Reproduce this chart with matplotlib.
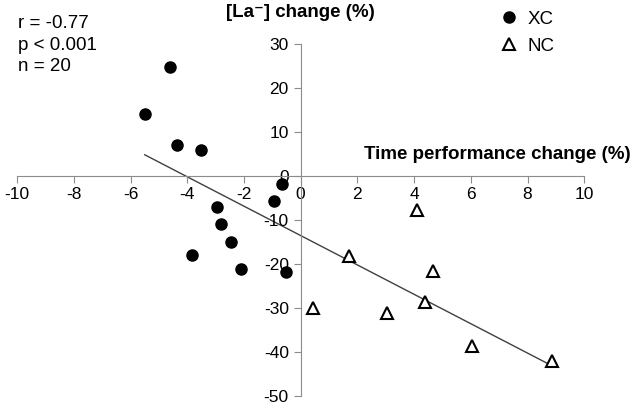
import numpy as np
import matplotlib
matplotlib.use("Agg")
from matplotlib import pyplot as plt

plt.rcParams['font.family'] = ['Liberation Sans', 'DejaVu Sans']
plt.rcParams['axes.unicode_minus'] = False

# XC group (filled circles)
xc_time = [-5.5, -4.6, -4.35, -3.5, -0.67, -0.95, -2.96, -2.82, -2.44, -3.82, -2.09, -0.53]
xc_la = [14.1, 24.8, 7.0, 5.8, -1.8, -5.7, -7.1, -10.8, -14.9, -18.0, -21.2, -21.8]

# NC group (open triangles)
nc_time = [0.43, 1.70, 3.06, 4.09, 4.37, 4.68, 6.03, 8.88]
nc_la = [-30.1, -18.2, -31.1, -7.7, -28.7, -21.5, -38.6, -42.0]

stats_text = "r = -0.77\np < 0.001\nn = 20"

fig = plt.figure(figsize=(6.33, 4.07), dpi=100)
ax = fig.add_axes([0.027, 0.027, 0.896, 0.865])

# trend line over all points
all_x = np.array(xc_time + nc_time)
all_y = np.array(xc_la + nc_la)
k, b = np.polyfit(all_x, all_y, 1)
xs = np.array([all_x.min(), all_x.max()])
ax.plot(xs, k * xs + b, color='#404040', lw=1, zorder=1)

ax.plot(xc_time, xc_la, 'o', color='black', ms=8, ls='none', label='XC', zorder=3)
ax.plot(nc_time, nc_la, '^', mfc='white', mec='black', mew=1.5, ms=9, ls='none', label='NC', zorder=3)

ax.set_xlim(-10, 10)
ax.set_ylim(-50, 30)
ax.set_xticks(range(-10, 11, 2))
ax.set_yticks(range(-50, 31, 10))

for s in ['top', 'right']:
    ax.spines[s].set_visible(False)
ax.spines['left'].set_position(('data', 0))
ax.spines['bottom'].set_position(('data', 0))
for s in ['left', 'bottom']:
    ax.spines[s].set_color('#8c8c8c')
ax.tick_params(colors='#8c8c8c', labelcolor='black', labelsize=12.5, length=5, direction='out')
ax.tick_params(axis='x', pad=3)
ax.patch.set_alpha(0)

fig.text(0.474, 0.97, "[La\u207b] change (%)", fontsize=13.5, fontweight='bold', ha='center', va='center')
fig.text(0.997, 0.62, "Time performance change (%)", fontsize=13.5, fontweight='bold', ha='right', va='center')
fig.text(0.029, 0.962, stats_text, fontsize=13.5, ha='left', va='top', linespacing=1.32)

leg = ax.legend(loc='upper left', bbox_to_anchor=(0.82, 1.143), frameon=False, fontsize=13.5,
                handletextpad=0.4, labelspacing=0.55, handlelength=1.1)

fig.savefig('out.png', dpi=100)
